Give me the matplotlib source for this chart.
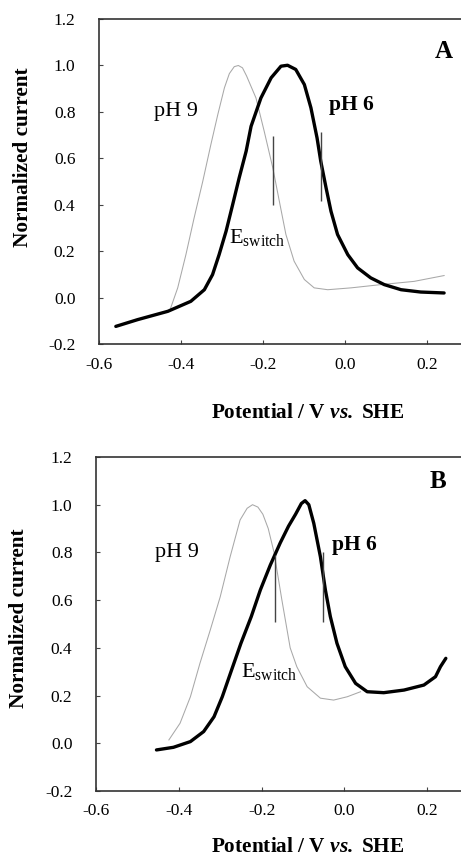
import numpy as np
import matplotlib
matplotlib.use('Agg')
import matplotlib.pyplot as plt

plt.rcParams['font.family'] = ['Liberation Serif', 'DejaVu Serif']
plt.rcParams['mathtext.fontset'] = 'custom'
plt.rcParams['mathtext.rm'] = 'Liberation Serif'
plt.rcParams['mathtext.it'] = 'Liberation Serif:italic'
plt.rcParams['mathtext.bf'] = 'Liberation Serif:bold'
plt.rcParams['mathtext.bfit'] = 'Liberation Serif:bold:italic'
plt.rcParams['axes.unicode_minus'] = False

# panel A
a_ph9_x = [-0.428, -0.408, -0.388, -0.368, -0.347, -0.327, -0.31, -0.294, -0.282, -0.27,
           -0.26, -0.25, -0.24, -0.217, -0.197, -0.176, -0.16, -0.144, -0.124, -0.099,
           -0.075, -0.042, 0.015, 0.088, 0.169, 0.242]
a_ph9_y = [-0.059, 0.042, 0.185, 0.343, 0.50, 0.66, 0.79, 0.904, 0.965, 0.995,
           1.0, 0.99, 0.955, 0.86, 0.717, 0.559, 0.415, 0.272, 0.157, 0.078,
           0.042, 0.034, 0.042, 0.056, 0.07, 0.095]
a_ph6_x = [-0.559, -0.506, -0.432, -0.376, -0.343, -0.323, -0.307, -0.29, -0.274, -0.258,
           -0.241, -0.229, -0.205, -0.18, -0.156, -0.14, -0.12, -0.099, -0.083, -0.068,
           -0.059, -0.046, -0.034, -0.018, 0.007, 0.031, 0.063, 0.096, 0.137, 0.185, 0.242]
a_ph6_y = [-0.124, -0.095, -0.059, -0.016, 0.034, 0.099, 0.185, 0.286, 0.40, 0.516,
           0.631, 0.738, 0.86, 0.947, 0.997, 1.001, 0.983, 0.918, 0.818, 0.688,
           0.588, 0.473, 0.372, 0.272, 0.185, 0.128, 0.085, 0.056, 0.034, 0.024, 0.020]
a_marks_x = [-0.176, -0.059]
a_marks_lo = [0.40, 0.418]
a_marks_hi = [0.695, 0.714]

# panel B
b_ph9_x = [-0.424, -0.397, -0.372, -0.349, -0.324, -0.30, -0.276, -0.252, -0.235, -0.222,
           -0.209, -0.197, -0.184, -0.17, -0.151, -0.131, -0.115, -0.09, -0.058, -0.026,
           0.007, 0.039]
b_ph9_y = [0.014, 0.084, 0.195, 0.335, 0.475, 0.614, 0.782, 0.936, 0.985, 1.0,
           0.99, 0.96, 0.90, 0.80, 0.60, 0.40, 0.321, 0.237, 0.189, 0.181,
           0.195, 0.216]
b_ph6_x = [-0.454, -0.413, -0.372, -0.34, -0.315, -0.295, -0.274, -0.25, -0.225, -0.203,
           -0.179, -0.155, -0.135, -0.118, -0.104, -0.095, -0.086, -0.074, -0.058, -0.046,
           -0.034, -0.018, 0.002, 0.027, 0.055, 0.095, 0.144, 0.192, 0.22, 0.232, 0.245]
b_ph6_y = [-0.028, -0.017, 0.007, 0.049, 0.111, 0.195, 0.30, 0.419, 0.531, 0.643,
           0.747, 0.84, 0.91, 0.96, 1.005, 1.017, 1.0, 0.922, 0.782, 0.643,
           0.531, 0.419, 0.321, 0.251, 0.216, 0.212, 0.223, 0.244, 0.279, 0.321, 0.356]
b_marks_x = [-0.167, -0.052]
b_marks_lo = [0.51, 0.51]
b_marks_hi = [0.79, 0.80]

x_ticks = [-0.6, -0.4, -0.2, 0.0, 0.2]
y_ticks = [-0.2, 0.0, 0.2, 0.4, 0.6, 0.8, 1.0, 1.2]


def draw_panel(ax, ph9_x, ph9_y, ph6_x, ph6_y, mx, mlo, mhi, letter, txt):
    ax.plot(ph9_x, ph9_y, color='#a8a8a8', lw=0.75)
    ax.plot(ph6_x, ph6_y, color='black', lw=2.4, solid_capstyle='round', solid_joinstyle='round')
    ax.vlines(mx, mlo, mhi, color='#444444', lw=1.0)
    ax.set_xlim(-0.6, 0.4)
    ax.set_ylim(-0.2, 1.2)
    ax.set_xticks(x_ticks)
    ax.set_yticks(y_ticks)
    ax.set_xticklabels(['%.1f' % t for t in x_ticks])
    ax.set_yticklabels(['%.1f' % t for t in y_ticks])
    ax.tick_params(axis='y', direction='in', length=3, pad=17, labelsize=12.5, color='#444444')
    ax.tick_params(axis='x', direction='in', length=3, pad=9, labelsize=12.5, color='#444444')
    for s in ax.spines.values():
        s.set_color('#333333')
        s.set_linewidth(1.2)
    ax.text(txt['ph9'][0], txt['ph9'][1], 'pH 9', fontsize=16, ha='center', va='center')
    ax.text(txt['ph6'][0], txt['ph6'][1], 'pH 6', fontsize=15.5, fontweight='bold',
            ha='left', va='center')
    ax.text(txt['e'][0], txt['e'][1], r'$\mathrm{E}_{\mathrm{switch}}$', fontsize=16,
            ha='left', va='center')
    ax.text(txt['let'][0], txt['let'][1], letter, fontsize=18, fontweight='bold',
            ha='center', va='center')


def main():
    fig = plt.figure(figsize=(4.61, 8.59), dpi=100)
    ax_a = fig.add_axes([0.2148, 0.5995, 0.889, 0.3783])
    ax_b = fig.add_axes([0.2083, 0.0792, 0.898, 0.3888])

    draw_panel(ax_a, a_ph9_x, a_ph9_y, a_ph6_x, a_ph6_y, a_marks_x, a_marks_lo, a_marks_hi,
               'A', {'ph9': (-0.412, 0.80), 'ph6': (-0.039, 0.83),
                     'e': (-0.283, 0.26), 'let': (0.24, 1.06)})
    draw_panel(ax_b, b_ph9_x, b_ph9_y, b_ph6_x, b_ph6_y, b_marks_x, b_marks_lo, b_marks_hi,
               'B', {'ph9': (-0.404, 0.80), 'ph6': (-0.03, 0.83),
                     'e': (-0.25, 0.30), 'let': (0.227, 1.096)})

    for ax, ylab_y, xlab_y in [(ax_a, 0.575, -0.212), (ax_b, 0.518, -0.168)]:
        ax.text(-0.185, ylab_y, 'Normalized current', transform=ax.transAxes, rotation=90,
                fontsize=15.3, fontweight='bold', ha='center', va='center')
        ax.text(0.51, xlab_y, r'Potential / V $\mathbfit{vs.}$ SHE', transform=ax.transAxes,
                fontsize=15.3, fontweight='bold', ha='center', va='center')

    fig.savefig('out.png', dpi=100)


if __name__ == '__main__':
    main()
